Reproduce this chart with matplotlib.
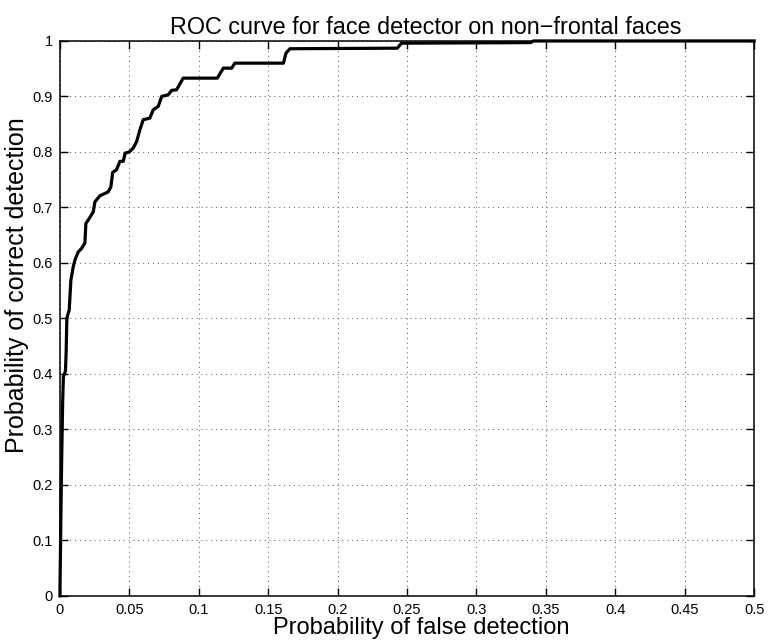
import matplotlib
matplotlib.use("Agg")
import matplotlib.pyplot as plt
import numpy as np

# ROC operating points (false rate, detection rate)
false_rate = [0, 0.0005, 0.001, 0.0015, 0.002, 0.0025, 0.0040, 0.0045, 0.0050,
              0.0055, 0.0067, 0.0079, 0.0096, 0.0108, 0.0132, 0.0156, 0.0180,
              0.0187, 0.0211, 0.0240, 0.0252, 0.0288, 0.0348, 0.0367, 0.0380,
              0.0408, 0.0432, 0.0456, 0.0470, 0.0500, 0.0528, 0.0553, 0.0576,
              0.0600, 0.0648, 0.0672, 0.0708, 0.0733, 0.0780, 0.0805, 0.0840,
              0.0888, 0.1133, 0.1177, 0.1237, 0.1260, 0.1610, 0.1628, 0.1657,
              0.2430, 0.2460, 0.3390, 0.3410, 0.5]
detect_rate = [0, 0.10, 0.20, 0.28, 0.35, 0.395, 0.405, 0.44, 0.50,
               0.505, 0.515, 0.569, 0.593, 0.605, 0.620, 0.626, 0.636,
               0.671, 0.680, 0.692, 0.710, 0.721, 0.728, 0.737, 0.763,
               0.768, 0.783, 0.783, 0.798, 0.800, 0.807, 0.819, 0.840,
               0.858, 0.861, 0.876, 0.882, 0.900, 0.903, 0.911, 0.912,
               0.933, 0.933, 0.951, 0.951, 0.960, 0.960, 0.978, 0.986,
               0.987, 0.996, 0.997, 1.0, 1.0]

x_ticks = np.arange(0, 0.5001, 0.05)
x_labels = ["0", "0.05", "0.1", "0.15", "0.2", "0.25", "0.3", "0.35", "0.4", "0.45", "0.5"]
y_ticks = np.arange(0, 1.0001, 0.1)
y_labels = ["0", "0.1", "0.2", "0.3", "0.4", "0.5", "0.6", "0.7", "0.8", "0.9", "1"]

plt.rcParams["font.family"] = ["Liberation Sans", "DejaVu Sans"]

fig = plt.figure(figsize=(7.68, 6.4), dpi=100)
ax = fig.add_axes([0.078, 0.069, 0.904, 0.867])

ax.plot(false_rate, detect_rate, color="black", linewidth=2.3, clip_on=False, zorder=3)

ax.set_xlim(0, 0.5)
ax.set_ylim(0, 1)
ax.set_xticks(x_ticks)
ax.set_xticklabels(x_labels)
ax.set_yticks(y_ticks)
ax.set_yticklabels(y_labels)
ax.tick_params(direction="in", length=6, width=1, top=True, right=True,
               labelsize=10.5, pad=5)
for s in ax.spines.values():
    s.set_linewidth(1.1)

ax.grid(True, color="#555555", linestyle=(0, (1, 4)), linewidth=0.7)

# scanned original: titles sit a little right of / above centre
ax.set_title("ROC curve for face detector on non\u2212frontal faces", fontsize=16.8,
             x=0.527, pad=5)
ax.set_xlabel("Probability of false detection", fontsize=17)
ax.xaxis.set_label_coords(0.52, -0.038)
ax.set_ylabel("Probability of correct detection", fontsize=18)
ax.yaxis.set_label_coords(-0.044, 0.56)

fig.savefig("out.png", dpi=100)
